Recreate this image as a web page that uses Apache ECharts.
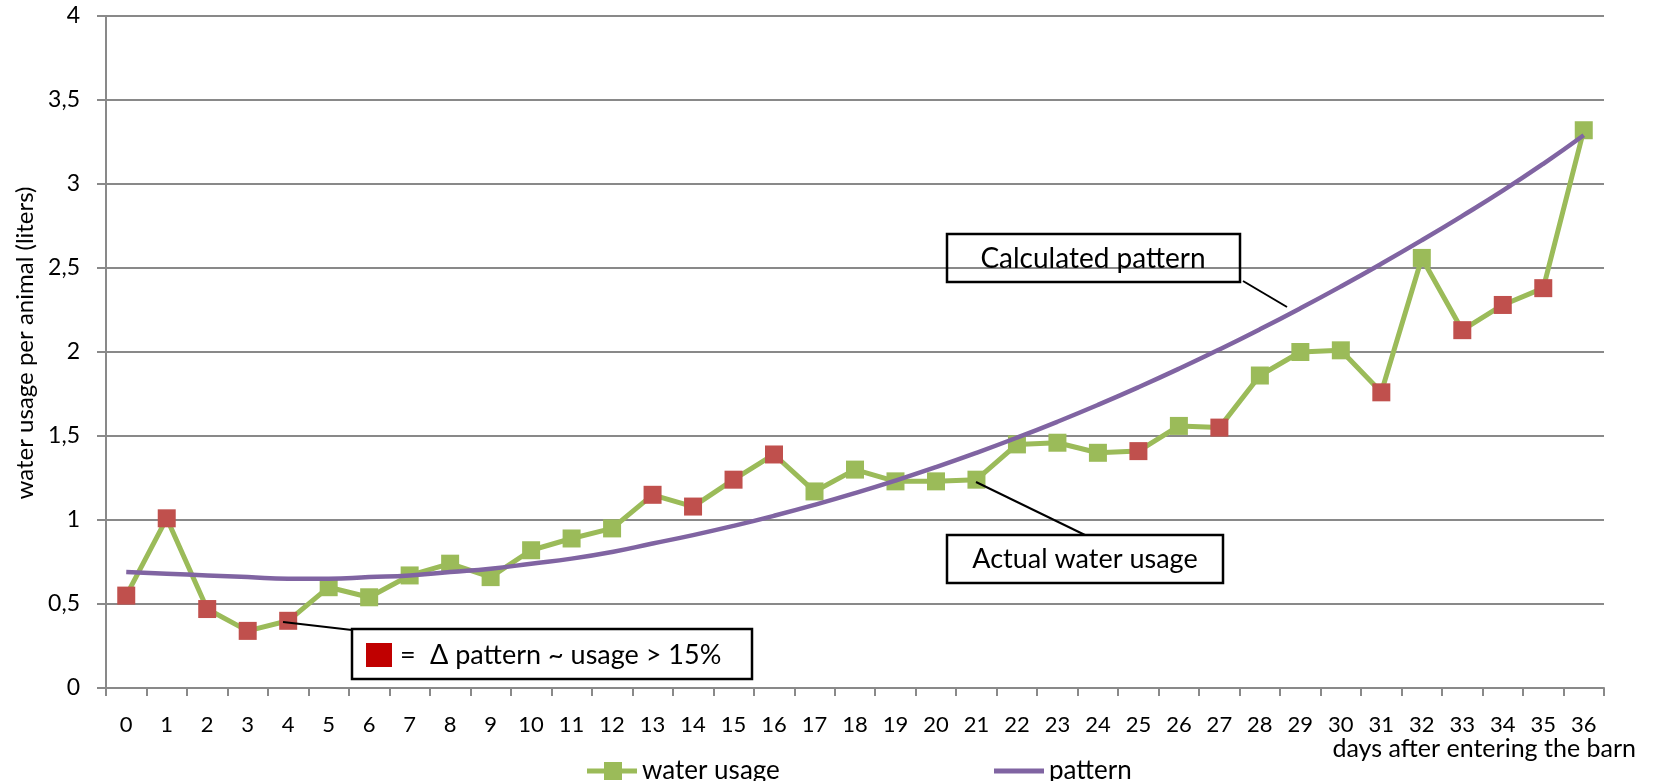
<!DOCTYPE html>
<html>
<head>
<meta charset="utf-8">
<script src="https://cdn.jsdelivr.net/npm/echarts@6/dist/echarts.min.js"></script>
<style>
html,body{margin:0;padding:0;background:#fff;}
#chart{width:1655px;height:781px;}
</style>
</head>
<body>
<div id="chart"></div>
<script>
var days = ['0','1','2','3','4','5','6','7','8','9','10','11','12','13','14','15','16','17','18','19','20','21','22','23','24','25','26','27','28','29','30','31','32','33','34','35','36'];
var waterUsage = [0.55,1.01,0.47,0.34,0.40,0.60,0.54,0.67,0.74,0.66,0.82,0.89,0.95,1.15,1.08,1.24,1.39,1.17,1.30,1.23,1.23,1.24,1.45,1.46,1.40,1.41,1.56,1.55,1.86,2.00,2.01,1.76,2.56,2.13,2.28,2.38,3.32];
var pattern = [0.69,0.68,0.67,0.66,0.65,0.65,0.66,0.67,0.69,0.71,0.74,0.77,0.81,0.86,0.91,0.965,1.025,1.09,1.16,1.235,1.315,1.40,1.49,1.585,1.685,1.79,1.90,2.015,2.135,2.26,2.39,2.525,2.665,2.81,2.96,3.12,3.29];
var flaggedDays = [0,1,2,3,4,13,14,15,16,25,27,31,33,34,35];
var yTicks = ['0','0,5','1','1,5','2','2,5','3','3,5','4'];

var FONT = 'Lato, "Noto Sans", sans-serif';
var GREEN = '#9BBB59', RED = '#C0504D', PURPLE = '#8064A2', GRID = '#898989';

var usageData = waterUsage.map(function (v, i) {
  var d = { value: v };
  if (flaggedDays.indexOf(i) >= 0) d.itemStyle = { color: RED };
  return d;
});

var chart = echarts.init(document.getElementById('chart'), null, { renderer: 'canvas' });
chart.setOption({
  animation: false,
  backgroundColor: '#fff',
  grid: { left: 106, right: 51, top: 16, bottom: 93, containLabel: false },
  xAxis: {
    type: 'category',
    data: days,
    boundaryGap: true,
    axisLine: { lineStyle: { color: GRID, width: 2 } },
    axisTick: { show: true, length: 8, lineStyle: { color: GRID, width: 2 } },
    axisLabel: { color: '#000', fontFamily: FONT, fontSize: 22, margin: 26, interval: 0 }
  },
  yAxis: {
    type: 'value',
    min: 0, max: 4, interval: 0.5,
    name: 'water usage per animal (liters)',
    nameLocation: 'middle',
    nameGap: 69,
    nameRotate: 90,
    nameTextStyle: { color: '#000', fontFamily: FONT, fontSize: 24, padding: [0, 0, 0, 18] },
    axisLine: { show: true, lineStyle: { color: GRID, width: 2 } },
    axisTick: { show: true, length: 9, lineStyle: { color: GRID, width: 2 } },
    axisLabel: {
      color: '#000', fontFamily: FONT, fontSize: 23, margin: 26,
      formatter: function (v) { return yTicks[Math.round(v / 0.5)]; }
    },
    splitLine: { show: true, lineStyle: { color: GRID, width: 2 } }
  },
  legend: [
    { data: [{ name: 'water usage', icon: 'path://M0,6.5H17V0H35V6.5H50V11.5H35V18H17V11.5H0Z' }],
      left: 582, top: 753, itemWidth: 50, itemHeight: 18, itemGap: 0,
      textStyle: { color: '#000', fontFamily: FONT, fontSize: 26 } },
    { data: [{ name: 'pattern', icon: 'path://M0,0H50V5H0Z' }],
      left: 989, top: 753, itemWidth: 50, itemHeight: 5, itemGap: 0,
      textStyle: { color: '#000', fontFamily: FONT, fontSize: 26 } }
  ],
  series: [
    {
      name: 'water usage',
      type: 'line',
      data: usageData,
      symbol: 'rect',
      symbolSize: 18,
      lineStyle: { color: GREEN, width: 5 },
      itemStyle: { color: GREEN },
      z: 2
    },
    {
      name: 'pattern',
      type: 'line',
      data: pattern,
      smooth: true,
      symbol: 'none',
      showSymbol: false,
      lineStyle: { color: PURPLE, width: 4.5 },
      itemStyle: { color: PURPLE },
      z: 3
    }
  ],
  graphic: [
    { type: 'rect', shape: { x: 947, y: 234, width: 293, height: 48 }, style: { fill: 'none', stroke: '#000', lineWidth: 2.5 }, z: 10 },
    { type: 'text', x: 1093, y: 259, style: { text: 'Calculated pattern', font: '28px ' + FONT, fill: '#000', align: 'center', verticalAlign: 'middle' }, z: 10 },
    { type: 'line', shape: { x1: 1243, y1: 281, x2: 1287, y2: 307 }, style: { stroke: '#000', lineWidth: 2 }, z: 10 },

    { type: 'rect', shape: { x: 947, y: 535, width: 276, height: 48 }, style: { fill: 'none', stroke: '#000', lineWidth: 2.5 }, z: 10 },
    { type: 'text', x: 1085, y: 559, style: { text: 'Actual water usage', font: '27px ' + FONT, fill: '#000', align: 'center', verticalAlign: 'middle' }, z: 10 },
    { type: 'line', shape: { x1: 976, y1: 482, x2: 1085, y2: 535 }, style: { stroke: '#000', lineWidth: 2 }, z: 10 },

    { type: 'rect', shape: { x: 352, y: 629, width: 400, height: 50 }, style: { fill: '#fff', stroke: '#000', lineWidth: 2.5 }, z: 10 },
    { type: 'rect', shape: { x: 366, y: 643, width: 26, height: 24 }, style: { fill: '#C00000' }, z: 11 },
    { type: 'text', x: 400, y: 655, style: { text: '=', font: '27px ' + FONT, fill: '#000', align: 'left', verticalAlign: 'middle' }, z: 11 },
    { type: 'text', x: 430, y: 655, style: { text: '\u0394 pattern ~ usage > 15%', font: '27px ' + FONT, fill: '#000', align: 'left', verticalAlign: 'middle' }, z: 11 },
    { type: 'line', shape: { x1: 283, y1: 622, x2: 352, y2: 630 }, style: { stroke: '#000', lineWidth: 2 }, z: 10 },

    { type: 'text', x: 1636, y: 749, style: { text: 'days after entering the barn', font: '25px ' + FONT, fill: '#000', align: 'right', verticalAlign: 'middle' }, z: 10 }
  ]
});
</script>
</body>
</html>
